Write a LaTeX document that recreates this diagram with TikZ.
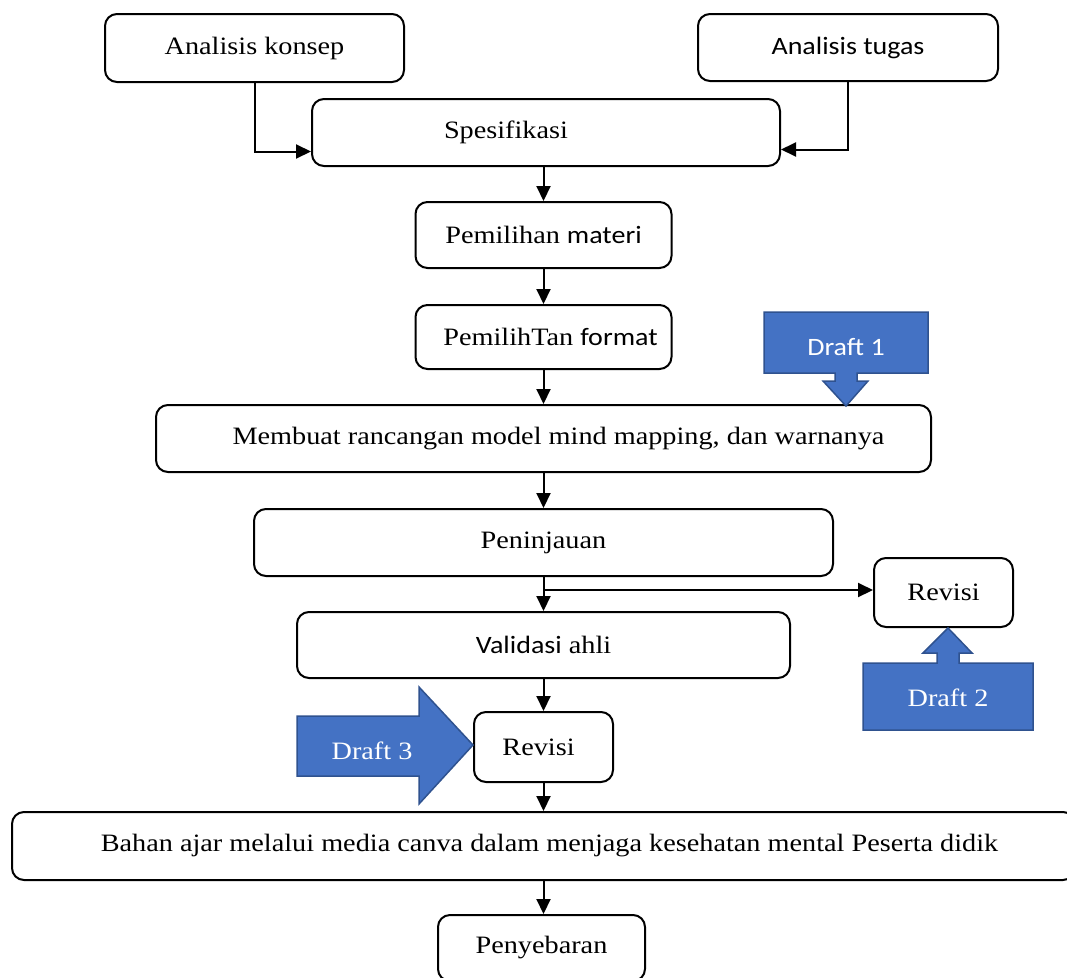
\documentclass[tikz,border=0pt]{standalone}
\usepackage{fontspec}
\setmainfont{Liberation Serif}[FakeStretch=1.13]
\newfontfamily\calib{Carlito}[FakeStretch=1.12]
\usetikzlibrary{arrows.meta}

\definecolor{draftblue}{HTML}{4472C4}
\definecolor{draftedge}{HTML}{2F528F}

\begin{document}
\begin{tikzpicture}[x=1pt,y=-1pt,
box/.style={draw,rounded corners=12pt,line width=2pt,inner sep=0pt,
  font=\fontsize{25}{29}\selectfont},
arr/.style={line width=2pt,-{Triangle[length=15pt,width=14pt]}},
draft/.style={fill=draftblue,draw=draftedge,line width=1.5pt},
drafttext/.style={text=white,font=\fontsize{25}{29}\selectfont}]
\useasboundingbox (0,0) rectangle (1067,977);

% langkah-langkah
\node[box,minimum width=299,minimum height=68] (konsep) at (254.5,48) {Analisis konsep};
\node[box,minimum width=300,minimum height=67] (tugas) at (848,47.5) {\calib Analisis tugas};
\node[box,minimum width=468,minimum height=67] (spes) at (546,132.5) {\hspace*{-80pt}Spesifikasi};
\node[box,minimum width=256,minimum height=66] (materi) at (543.5,235) {Pemilihan \calib materi};
\node[box,minimum width=256,minimum height=64] (format) at (543.5,337) {\hspace*{14pt}PemilihTan \calib format};
\node[box,minimum width=775,minimum height=67] (rancang) at (543.5,438.5) {\hspace*{30pt}Membuat rancangan model mind mapping, dan warnanya};
\node[box,minimum width=579,minimum height=67] (tinjau) at (543.5,542.5) {Peninjauan};
\node[box,minimum width=139,minimum height=69] (revisiA) at (943.5,592.5) {Revisi};
\node[box,minimum width=493,minimum height=66] (validasi) at (543.5,645) {{\calib Validasi} ahli};
\node[box,minimum width=139,minimum height=70] (revisiB) at (543.5,747) {\hspace*{-10pt}Revisi};
\node[box,minimum width=1063,minimum height=68] (bahan) at (543.5,846) {\hspace*{12pt}Bahan ajar melalui media canva dalam menjaga kesehatan mental Peserta didik};
\node[box,minimum width=207,minimum height=66] (sebar) at (541.5,948) {Penyebaran};

\coordinate (cab) at (543.5,590);

\draw[arr] (konsep.south) |- ([yshift=-19pt]spes.west);
\draw[arr] (tugas.south) |- ([yshift=-17pt]spes.east);
\path[arr]
(spes.south -| materi.north) edge (materi.north)
(materi) edge (format)
(format) edge (rancang)
(rancang) edge (tinjau)
(tinjau) edge (validasi)
(validasi) edge (revisiB)
(revisiB) edge (bahan)
(bahan.south) edge (bahan.south |- sebar.north);
\draw[arr] (cab) -- (cab -| revisiA.west);

% draft
\draw[draft] (764,312) -- (928,312) -- (928,373) -- (857,373) -- (857,381) -- (868,381)
  -- (846,406) -- (823,381) -- (835,381) -- (835,373) -- (764,373) -- cycle;
\node[drafttext,font=\fontsize{25}{29}\calib] (d1) at (846,347) {Draft 1};
\draw[draft] (863,730) -- (863,663) -- (937,663) -- (937,653) -- (923,653) -- (948,628)
  -- (972,653) -- (959,653) -- (959,663) -- (1033,663) -- (1033,730) -- cycle;
\node[drafttext] (d2) at (948,698) {Draft 2};
\draw[draft] (297,716) -- (419,716) -- (419,687) -- (473,745) -- (419,804) -- (419,776)
  -- (297,776) -- cycle;
\node[drafttext] (d3) at (372,751) {Draft 3};
\end{tikzpicture}
\end{document}
